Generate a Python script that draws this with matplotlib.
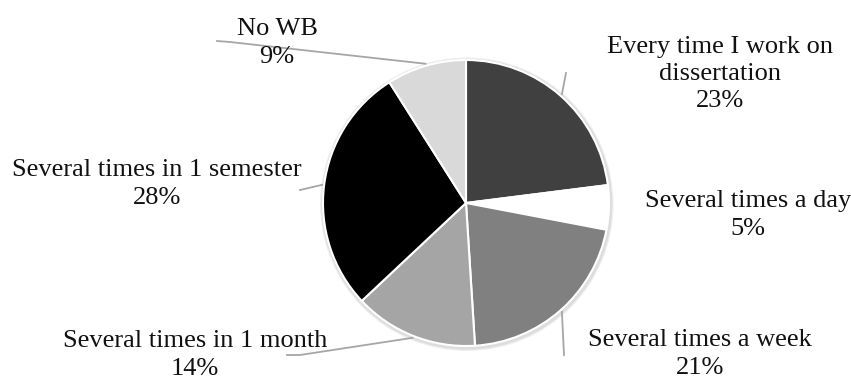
import numpy as np
import matplotlib.pyplot as plt
from matplotlib.patches import Circle

plt.rcParams["font.family"] = ["Liberation Serif", "DejaVu Serif"]

categories = ["Every time I work on\ndissertation", "Several times a day",
              "Several times a week", "Several times in 1 month",
              "Several times in 1 semester", "No WB"]
shares = [23, 5, 21, 14, 28, 9]
colors = ["#404040", "#ffffff", "#808080", "#a5a5a5", "#000000", "#d9d9d9"]

# label centres and leader end points, in pixel coordinates (y from top)
label_pos = [(720, 74), (748, 215), (700, 354), (195, 355), (157, 184), (277, 43)]
leader_end = [[(566, 73)], None, [(564, 355)], [(300, 355), (287, 355)],
              [(300, 190)], [(230, 42), (217, 41)]]

W, H = 851, 380
cx, cy, r = 466, 203, 143

fig = plt.figure(figsize=(W / 100, H / 100), dpi=100)
ax = fig.add_axes([0, 0, 1, 1])
ax.set_xlim(0, W)
ax.set_ylim(0, H)
ax.axis("off")

# soft outline / shadow behind the pie
for dr, col in [(3.0, "#eeeeee"), (1.8, "#dddddd")]:
    ax.add_patch(Circle((cx + 0.8, H - cy - 1.2), r + dr, color=col, zorder=0))

wedges, _ = ax.pie(shares, colors=colors, startangle=90, counterclock=False,
                   center=(cx, H - cy), radius=r,
                   wedgeprops={"edgecolor": "white", "linewidth": 1.5})
ax.set_xlim(0, W)
ax.set_ylim(0, H)
ax.set_aspect("equal")

for w, name, share, (lx, ly), ends in zip(wedges, categories, shares,
                                          label_pos, leader_end):
    mid = np.deg2rad((w.theta1 + w.theta2) / 2)
    if ends is not None:
        xs = [cx + (r + 2) * np.cos(mid)] + [p[0] for p in ends]
        ys = [H - cy + (r + 2) * np.sin(mid)] + [H - p[1] for p in ends]
        ax.plot(xs, ys, color="#a6a6a6", lw=1.3, zorder=1)
    ax.text(lx, H - ly, f"{name}\n{share}%", ha="center", va="center",
            fontsize=19, linespacing=1.32, color="#111111")

fig.savefig("out.png", dpi=100)
